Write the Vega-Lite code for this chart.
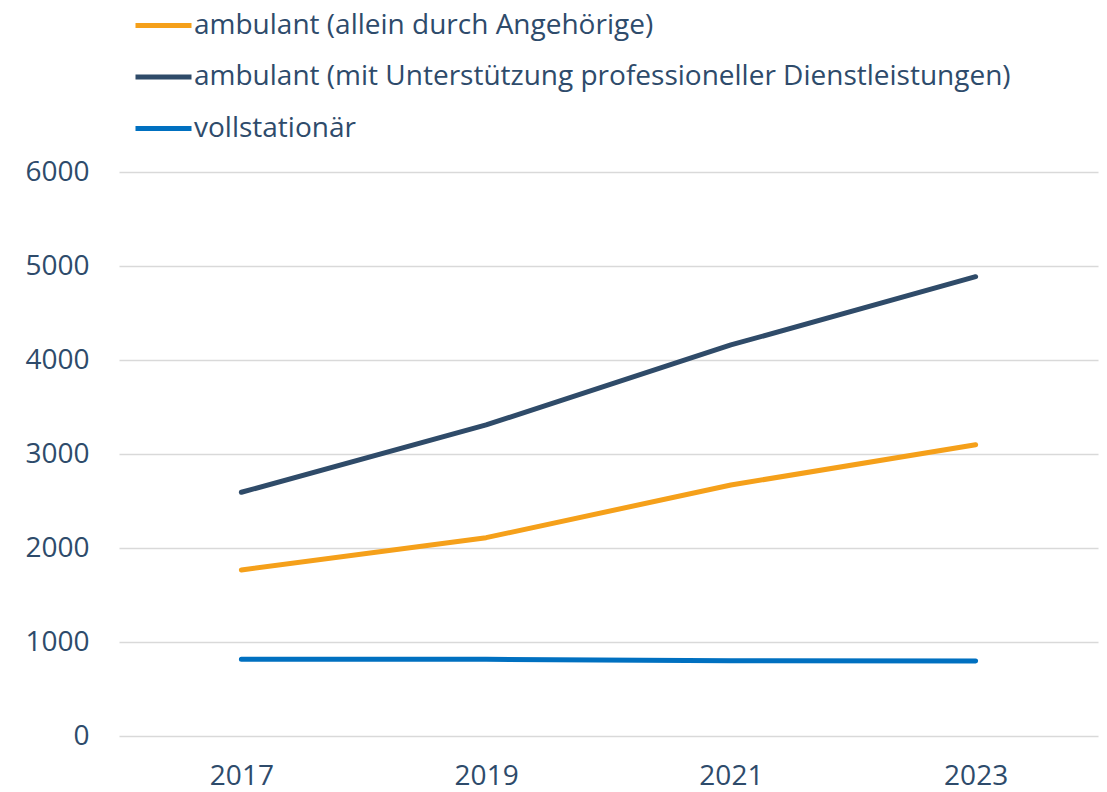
{
  "$schema": "https://vega.github.io/schema/vega-lite/v6.json",
  "width": 979,
  "height": 564,
  "autosize": {"type": "none"},
  "padding": {"left": 119, "top": 172, "right": 9, "bottom": 56},
  "background": "white",
  "config": {
    "view": {"stroke": null},
    "font": "Open Sans"
  },
  "data": {
    "values": [
      {"jahr": "2017", "serie": "ambulant (allein durch Angehörige)", "wert": 1766},
      {"jahr": "2019", "serie": "ambulant (allein durch Angehörige)", "wert": 2110},
      {"jahr": "2021", "serie": "ambulant (allein durch Angehörige)", "wert": 2670},
      {"jahr": "2023", "serie": "ambulant (allein durch Angehörige)", "wert": 3099},
      {"jahr": "2017", "serie": "ambulant (mit Unterstützung professioneller Dienstleistungen)", "wert": 2593},
      {"jahr": "2019", "serie": "ambulant (mit Unterstützung professioneller Dienstleistungen)", "wert": 3309},
      {"jahr": "2021", "serie": "ambulant (mit Unterstützung professioneller Dienstleistungen)", "wert": 4160},
      {"jahr": "2023", "serie": "ambulant (mit Unterstützung professioneller Dienstleistungen)", "wert": 4886},
      {"jahr": "2017", "serie": "vollstationär", "wert": 816},
      {"jahr": "2019", "serie": "vollstationär", "wert": 816},
      {"jahr": "2021", "serie": "vollstationär", "wert": 800},
      {"jahr": "2023", "serie": "vollstationär", "wert": 798}
    ]
  },
  "mark": {"type": "line", "strokeWidth": 5, "strokeCap": "round", "strokeJoin": "round"},
  "encoding": {
    "x": {
      "field": "jahr",
      "type": "ordinal",
      "scale": {"type": "point", "padding": 0.5},
      "axis": {
        "title": null,
        "labelAngle": 0,
        "domain": false,
        "ticks": false,
        "grid": false,
        "labelFontSize": 28,
        "labelColor": "#2E4B6B",
        "labelPadding": 26,
        "labelFont": "Open Sans"
      }
    },
    "y": {
      "field": "wert",
      "type": "quantitative",
      "scale": {"domain": [0, 6000], "nice": false},
      "axis": {
        "title": null,
        "values": [0, 1000, 2000, 3000, 4000, 5000, 6000],
        "format": "d",
        "domain": false,
        "ticks": false,
        "grid": true,
        "gridColor": "#D9D9D9",
        "gridWidth": 1.5,
        "labelFontSize": 28,
        "labelColor": "#2E4B6B",
        "labelPadding": 30,
        "labelFont": "Open Sans"
      }
    },
    "color": {
      "field": "serie",
      "type": "nominal",
      "scale": {
        "domain": [
          "ambulant (allein durch Angehörige)",
          "ambulant (mit Unterstützung professioneller Dienstleistungen)",
          "vollstationär"
        ],
        "range": ["#F5A01A", "#2F4B69", "#0070C0"]
      },
      "legend": {
        "title": null,
        "orient": "none",
        "legendX": 14,
        "legendY": -177,
        "direction": "vertical",
        "symbolType": "stroke",
        "symbolSize": 3136,
        "symbolStrokeWidth": 5,
        "labelFontSize": 28,
        "labelColor": "#2E4B6B",
        "labelFont": "Open Sans",
        "labelOffset": 0,
        "labelLimit": 1000,
        "rowPadding": 6.5,
        "padding": 0
      }
    }
  }
}
